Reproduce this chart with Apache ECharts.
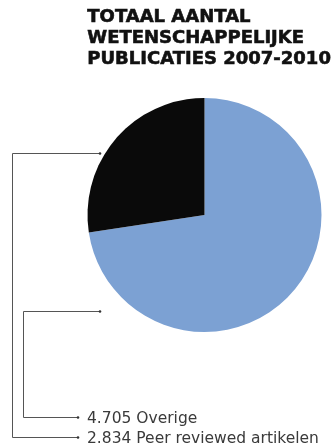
<!DOCTYPE html>
<html>
<head>
<meta charset="utf-8">
<script src="https://cdn.jsdelivr.net/npm/echarts@6/dist/echarts.min.js"></script>
<style>html,body{margin:0;padding:0;background:#fff;}#c{width:334px;height:447px;}</style>
</head>
<body>
<div id="c"></div>
<script>
// Title lines
const titleLines = ['TOTAAL AANTAL', 'WETENSCHAPPELIJKE', 'PUBLICATIES 2007-2010'];
// Categories and labelled totals
const categories = ['Overige', 'Peer reviewed artikelen'];
const labelValues = ['4.705', '2.834'];
// Slice shares (%)
const sliceShares = [72.6, 27.4];
const sliceColors = ['#7ca1d3', '#0a0a0a'];

const chart = echarts.init(document.getElementById('c'), null, {renderer: 'canvas'});

const graphics = [];
titleLines.forEach((t, i) => {
  graphics.push({
    type: 'text', left: 87, top: 8.5 + i * 20.7,
    style: {text: t, font: 'bold 18px "DejaVu Sans"', fill: '#111', stroke: '#111', lineWidth: 0.6}
  });
});
// connector lines (decoration)
const lineStyle = {stroke: '#555', lineWidth: 1, fill: null};
const connectors = [
  [[100, 311.5], [23.5, 311.5], [23.5, 417.5], [78, 417.5]],
  [[100, 153.5], [12.5, 153.5], [12.5, 437.5], [78, 437.5]]
];
connectors.forEach(pts => {
  graphics.push({type: 'polyline', shape: {points: pts}, style: lineStyle, z: 10});
  [pts[0], pts[pts.length - 1]].forEach(p => {
    graphics.push({type: 'circle', shape: {cx: p[0], cy: p[1], r: 1.3}, style: {fill: '#333'}, z: 11});
  });
});
categories.forEach((c, i) => {
  graphics.push({
    type: 'text', left: 87, top: 411 + i * 20,
    style: {text: labelValues[i] + ' ' + c, font: '15.5px "DejaVu Sans"', fill: '#3a3a3a'}
  });
});

chart.setOption({
  animation: false,
  backgroundColor: '#fff',
  graphic: graphics,
  series: [{
    type: 'pie',
    center: [204.5, 215],
    radius: 117,
    startAngle: 90,
    clockwise: true,
    label: {show: false},
    labelLine: {show: false},
    silent: true,
    data: categories.map((c, i) => ({name: c, value: sliceShares[i], itemStyle: {color: sliceColors[i]}}))
  }]
});
</script>
</body>
</html>
